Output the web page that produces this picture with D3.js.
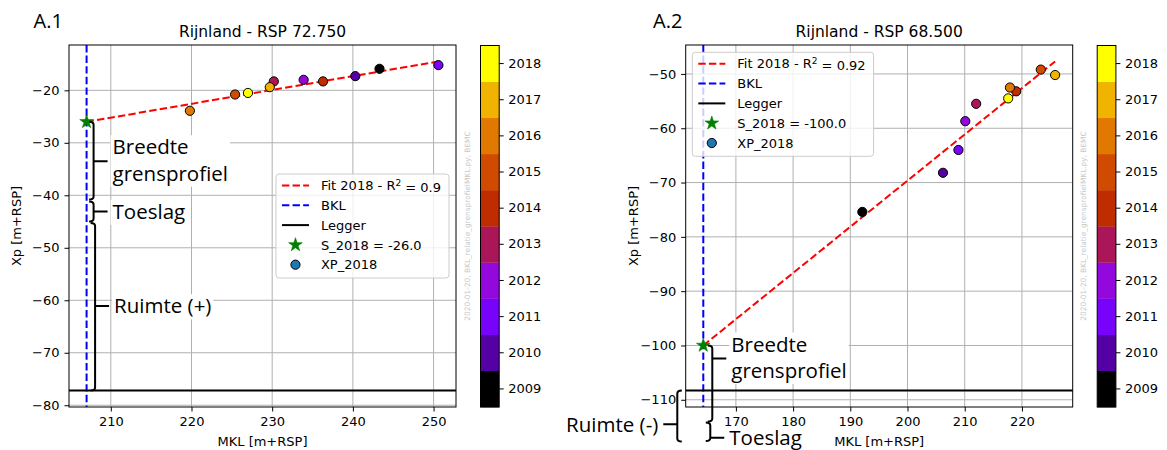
<!DOCTYPE html>
<html>
<head>
<meta charset="utf-8">
<script src="https://cdn.jsdelivr.net/npm/d3@7"></script>
<style>
  body { margin: 0; background: #fff; }
  svg { display: block; }
</style>
</head>
<body>
<svg id="chart" width="1167" height="450"></svg>
<script>
// ---- data -------------------------------------------------------------
const years = [2009, 2010, 2011, 2012, 2013, 2014, 2015, 2016, 2017, 2018];
const yearColors = ["#000000", "#5500a4", "#7803fb", "#9309dd", "#aa1657",
                    "#be2c00", "#d04b00", "#e17800", "#f0b300", "#ffff00"];

// A.1  Rijnland - RSP 72.750 (one point per year, same order as `years`)
const mklA1 = [243.3, 240.3, 250.6, 233.9, 230.2, 236.3, 225.4, 219.8, 229.7, 227.0];
const xpA1  = [-15.9, -17.3, -15.2, -18.0, -18.3, -18.3, -20.8, -23.9, -19.4, -20.5];
const fitMklA1 = [207.0, 250.6];
const fitXpA1  = [-26.0, -14.5];
const bklA1 = 207.0;
const leggerA1 = -77.2;
const sA1 = -26.0;
const r2A1 = "0.9";
const xTicksA1 = [210, 220, 230, 240, 250];
const yTicksA1 = [-80, -70, -60, -50, -40, -30, -20];

// A.2  Rijnland - RSP 68.500
const mklA2 = [192.1, 206.2, 208.9, 210.1, 212.0, 219.0, 223.3, 217.9, 225.8, 217.6];
const xpA2  = [-75.4, -68.2, -64.0, -58.7, -55.5, -53.2, -49.2, -52.5, -50.2, -54.5];
const fitMklA2 = [164.3, 225.8];
const fitXpA2  = [-100.0, -47.7];
const bklA2 = 164.3;
const leggerA2 = -108.3;
const sA2 = -100.0;
const r2A2 = "0.92";
const xTicksA2 = [170, 180, 190, 200, 210, 220];
const yTicksA2 = [-110, -100, -90, -80, -70, -60, -50];

// bracket annotations (Xp spans, tick level, horizontal offset from BKL, side)
const bracesA1 = [
  { lines: ["Breedte", "grensprofiel"], from: sA1, to: -40.8, tick: -33.5, dx: 7, dir: 1 },
  { lines: ["Toeslag"], from: -41.2, to: -45.0, tick: -43.1, dx: 7, dir: 1 },
  { lines: ["Ruimte (+)"], from: -45.3, to: leggerA1, tick: -61.1, dx: 8.5, dir: 1 }
];
const bracesA2 = [
  { lines: ["Breedte", "grensprofiel"], from: sA2, to: -114.0, tick: -102.4, dx: 9, dir: 1 },
  { lines: ["Toeslag"], from: -114.2, to: -117.6, tick: -117.0, dx: 7, dir: 1 },
  { lines: ["Ruimte (-)"], from: leggerA2, to: -117.7, tick: -114.5, dx: -26, dir: -1 }
];

const watermark = "2020-01-20, BKL_relatie_grensprofielMKL.py, BEMC";

// ---- drawing ----------------------------------------------------------
const svg = d3.select("#chart");
svg.append("rect").attr("width", 1167).attr("height", 450).attr("fill", "#fff");

const MPL = "'DejaVu Sans', sans-serif";
const NOTE = "'Open Sans', sans-serif";

function padded(ext) {
  const r = ext[1] - ext[0];
  return [ext[0] - 0.05 * r, ext[1] + 0.05 * r];
}

function styleAxis(g) {
  g.select(".domain").remove();
  g.selectAll(".tick line").attr("stroke", "#000").attr("stroke-width", 1);
  g.selectAll(".tick text").attr("fill", "#000").attr("font-size", 13).attr("font-family", MPL);
}

function drawPanel(p) {
  const { box, mkl, xp, fitMkl, fitXp, bkl, legger, s, r2, xTicks, yTicks } = p;
  const x = d3.scaleLinear()
    .domain(padded(d3.extent([...mkl, bkl, ...fitMkl])))
    .range([box.left, box.right]);
  const y = d3.scaleLinear()
    .domain(padded(d3.extent([...xp, legger, s, ...fitXp])))
    .range([box.bottom, box.top]);

  const g = svg.append("g");

  // grid
  g.append("g").selectAll("line").data(xTicks).join("line")
    .attr("x1", d => x(d)).attr("x2", d => x(d))
    .attr("y1", box.top).attr("y2", box.bottom)
    .attr("stroke", "#b0b0b0").attr("stroke-width", 1);
  g.append("g").selectAll("line").data(yTicks).join("line")
    .attr("y1", d => y(d)).attr("y2", d => y(d))
    .attr("x1", box.left).attr("x2", box.right)
    .attr("stroke", "#b0b0b0").attr("stroke-width", 1);

  // BKL (vertical), Legger (horizontal), fit line
  g.append("line")
    .attr("x1", x(bkl)).attr("x2", x(bkl)).attr("y1", box.top).attr("y2", box.bottom)
    .attr("stroke", "#0000ff").attr("stroke-width", 2).attr("stroke-dasharray", "7.4,3.2");
  g.append("line")
    .attr("x1", box.left).attr("x2", box.right).attr("y1", y(legger)).attr("y2", y(legger))
    .attr("stroke", "#000").attr("stroke-width", 2);
  const fitLine = d3.line().x(d => x(d[0])).y(d => y(d[1]));
  g.append("path")
    .attr("d", fitLine(fitMkl.map((m, i) => [m, fitXp[i]])))
    .attr("fill", "none").attr("stroke", "#ff0000").attr("stroke-width", 2)
    .attr("stroke-dasharray", "7.4,3.2");

  // yearly points
  g.append("g").selectAll("circle").data(years).join("circle")
    .attr("cx", (d, i) => x(mkl[i])).attr("cy", (d, i) => y(xp[i]))
    .attr("r", 4.6)
    .attr("fill", (d, i) => yearColors[i])
    .attr("stroke", "#000").attr("stroke-width", 1);

  // S star at BKL
  const star = d3.symbol().type(d3.symbolStar).size(58);
  g.append("path").attr("d", star())
    .attr("transform", `translate(${x(bkl)},${y(s)})`)
    .attr("fill", "#008000").attr("stroke", "#008000").attr("stroke-width", 0.6);

  // frame
  g.append("rect")
    .attr("x", box.left).attr("y", box.top)
    .attr("width", box.right - box.left).attr("height", box.bottom - box.top)
    .attr("fill", "none").attr("stroke", "#000").attr("stroke-width", 1);

  // axes
  const fmt = d3.format("d");
  g.append("g").attr("transform", `translate(0,${box.bottom})`)
    .call(d3.axisBottom(x).tickValues(xTicks).tickFormat(fmt).tickSize(4.5).tickPadding(5))
    .call(styleAxis);
  g.append("g").attr("transform", `translate(${box.left},0)`)
    .call(d3.axisLeft(y).tickValues(yTicks).tickFormat(fmt).tickSize(4.5).tickPadding(5))
    .call(styleAxis);

  // title, tag and axis labels
  const cx = (box.left + box.right) / 2;
  g.append("text").attr("x", cx).attr("y", 36.7).attr("text-anchor", "middle")
    .attr("font-family", MPL).attr("font-size", 15.5).text(p.title);
  g.append("text").attr("x", p.tagX).attr("y", 27.5)
    .attr("font-family", NOTE).attr("font-size", 20).text(p.tag);
  g.append("text").attr("x", cx).attr("y", 445.5).attr("text-anchor", "middle")
    .attr("font-family", MPL).attr("font-size", 13).text("MKL [m+RSP]");
  g.append("text").attr("transform", `translate(${box.left - 48},${(box.top + box.bottom) / 2}) rotate(-90)`)
    .attr("text-anchor", "middle")
    .attr("font-family", MPL).attr("font-size", 13).text("Xp [m+RSP]");

  // watermark
  g.append("text")
    .attr("transform", `translate(${box.right + 13.5},${(box.top + box.bottom) / 2}) rotate(-90)`)
    .attr("text-anchor", "middle").attr("font-family", MPL).attr("font-size", 7.4)
    .attr("fill", "#c8c8c8").text(watermark);

  // colour bar
  const cbx = box.right + 24.5, cbw = 18.7;
  const cb = d3.scaleBand().domain(years).range([box.bottom, box.top + 0.5]);
  g.append("g").selectAll("rect").data(years).join("rect")
    .attr("x", cbx).attr("width", cbw)
    .attr("y", d => cb(d)).attr("height", cb.bandwidth() + 0.3)
    .attr("fill", (d, i) => yearColors[i]);
  g.append("rect").attr("x", cbx).attr("y", box.top + 0.5)
    .attr("width", cbw).attr("height", box.bottom - box.top - 0.5)
    .attr("fill", "none").attr("stroke", "#000").attr("stroke-width", 1);
  g.append("g").attr("transform", `translate(${cbx + cbw},0)`)
    .call(d3.axisRight(cb).tickSize(4.5).tickPadding(4.5))
    .call(styleAxis);

  // legend
  drawLegend(g, p);

  // bracket annotations
  drawBraces(p.braces, x(bkl), y);
}

function drawLegend(g, p) {
  const lg = g.append("g");
  const rows = [
    { kind: "line", color: "#ff0000", dash: "7.4,3.2", label: ["Fit 2018 - R", "2", " = " + p.r2] },
    { kind: "line", color: "#0000ff", dash: "7.4,3.2", label: ["BKL"] },
    { kind: "line", color: "#000000", dash: null, label: ["Legger"] },
    { kind: "star", label: ["S_2018 = " + p.s.toFixed(1)] },
    { kind: "dot", label: ["XP_2018"] }
  ];
  const bg = lg.append("rect");
  const texts = [];
  rows.forEach((r, i) => {
    const ry = 11.5 + i * 19.8;
    const row = lg.append("g").attr("transform", `translate(0,${ry})`);
    if (r.kind === "line") {
      row.append("line").attr("x1", 6).attr("x2", 33).attr("y1", 0).attr("y2", 0)
        .attr("stroke", r.color).attr("stroke-width", 2)
        .attr("stroke-dasharray", r.dash);
    } else if (r.kind === "star") {
      row.append("path").attr("d", d3.symbol().type(d3.symbolStar).size(58)())
        .attr("transform", "translate(19.5,0)")
        .attr("fill", "#008000").attr("stroke", "#008000").attr("stroke-width", 0.6);
    } else {
      row.append("circle").attr("cx", 19.5).attr("cy", 0).attr("r", 4.6)
        .attr("fill", "#1f77b4").attr("stroke", "#000").attr("stroke-width", 1);
    }
    const t = row.append("text").attr("x", 45).attr("y", 0).attr("dy", "0.36em")
      .attr("font-family", MPL).attr("font-size", 13);
    t.append("tspan").text(r.label[0]);
    if (r.label.length > 1) {
      t.append("tspan").attr("dy", "-0.45em").attr("font-size", 9).text(r.label[1]);
      t.append("tspan").attr("dy", "0.45em").text(r.label[2]);
    }
    texts.push(t);
  });
  const tw = d3.max(texts, t => t.node().getComputedTextLength());
  const w = 45 + tw + 8, h = 104;
  bg.attr("width", w).attr("height", h).attr("rx", 3)
    .attr("fill", "#fff").attr("fill-opacity", 0.8)
    .attr("stroke", "#cccccc").attr("stroke-width", 1);
  let lx, ly;
  if (p.legendLoc === "center right") {
    lx = p.box.right - 7 - w;
    ly = (p.box.top + p.box.bottom) / 2 - h / 2;
  } else {
    lx = p.box.left + 6.6;
    ly = p.box.top + 7.3;
  }
  lg.attr("transform", `translate(${lx},${ly})`);
}

function drawBraces(braces, xb, y) {
  const ng = svg.append("g");
  braces.forEach(b => {
    const bx = xb + b.dx;
    const y0 = Math.min(y(b.from), y(b.to));
    const y1 = Math.max(y(b.from), y(b.to));
    const yt = y(b.tick);
    const hook = -b.dir * 4.5;
    const r = Math.min(3, (y1 - y0) / 4);
    ng.append("path")
      .attr("d", `M${bx + hook},${y0} Q${bx},${y0} ${bx},${y0 + r} L${bx},${y1 - r} ` +
                 `Q${bx},${y1} ${bx + hook},${y1} M${bx},${yt} L${bx + b.dir * 14},${yt}`)
      .attr("fill", "none").attr("stroke", "#000").attr("stroke-width", 2);

    const tx = bx + b.dir * 19;
    const tg = ng.append("g");
    const bgRect = tg.append("rect").attr("fill", "#fff");
    const t = tg.append("text").attr("font-family", NOTE).attr("font-size", 20.5)
      .attr("text-anchor", b.dir > 0 ? "start" : "end");
    if (b.lines.length === 2) {
      t.append("tspan").attr("x", tx).attr("y", yt - 7).text(b.lines[0]);
      t.append("tspan").attr("x", tx).attr("y", yt + 19.5).text(b.lines[1]);
    } else {
      t.append("tspan").attr("x", tx).attr("y", yt + 7.3).text(b.lines[0]);
    }
    // white box behind the caption, limited to the glyphs' cap-to-descender band
    const bb = t.node().getBBox();
    const top = bb.y + 3;
    bgRect.attr("x", bb.x - 2).attr("y", top).attr("width", bb.width + 4).attr("height", bb.height - 3);
  });
}

drawPanel({
  box: { left: 69, right: 456, top: 45, bottom: 407 },
  mkl: mklA1, xp: xpA1, fitMkl: fitMklA1, fitXp: fitXpA1,
  bkl: bklA1, legger: leggerA1, s: sA1, r2: r2A1,
  xTicks: xTicksA1, yTicks: yTicksA1,
  title: "Rijnland - RSP 72.750", tag: "A.1", tagX: 33.5,
  legendLoc: "center right", braces: bracesA1
});
drawPanel({
  box: { left: 685.7, right: 1072.7, top: 45, bottom: 407 },
  mkl: mklA2, xp: xpA2, fitMkl: fitMklA2, fitXp: fitXpA2,
  bkl: bklA2, legger: leggerA2, s: sA2, r2: r2A2,
  xTicks: xTicksA2, yTicks: yTicksA2,
  title: "Rijnland - RSP 68.500", tag: "A.2", tagX: 653,
  legendLoc: "upper left", braces: bracesA2
});
</script>
</body>
</html>
